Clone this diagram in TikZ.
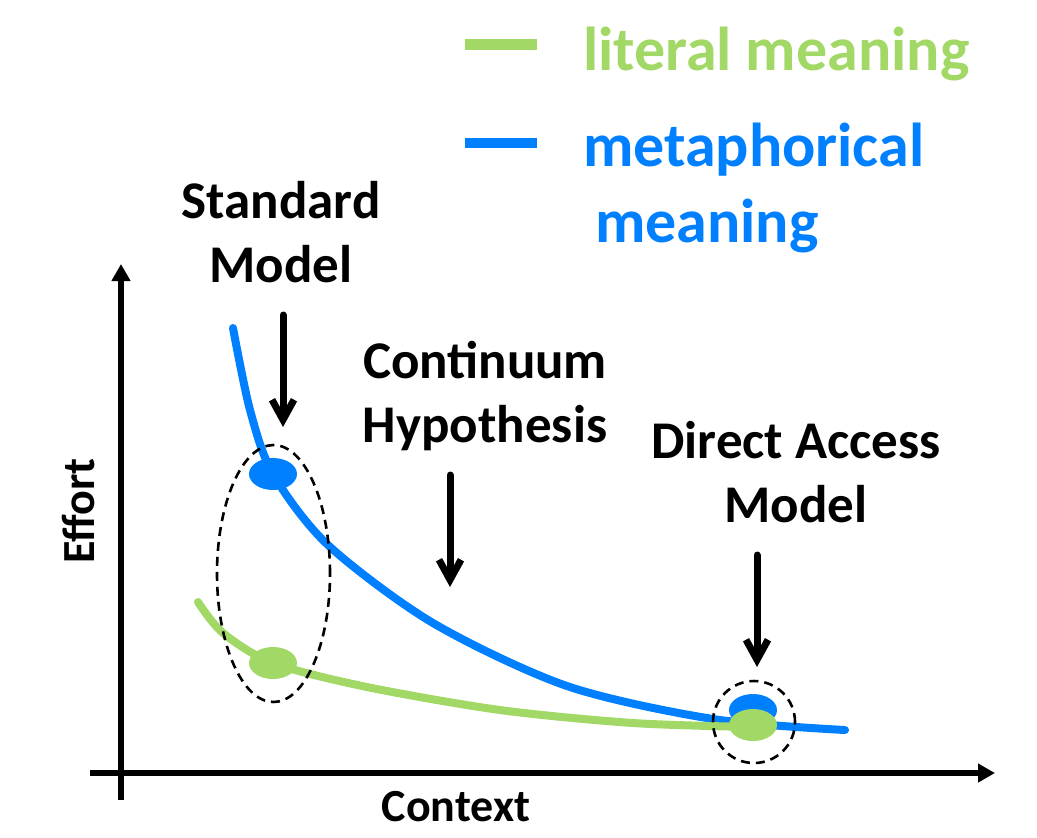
\documentclass[tikz,border=0pt]{standalone}
\usepackage{fontspec}
\setmainfont{Carlito}
\usetikzlibrary{arrows.meta, shapes.geometric}
\definecolor{cblue}{HTML}{0080FF}
\definecolor{cgreen}{HTML}{A2D865}
\tikzset{
  every picture/.style={font=\bfseries, line width=3pt},
  axisline/.style={-{Triangle[length=8.5pt, width=9pt]}, draw=black, line width=3pt},
  pointer/.style={-{Straight Barb[length=10pt, width=11pt]}, draw=black, line width=3.5pt, line cap=round},
  meaning/.style={draw=#1, line width=4pt, line cap=round},
  dot/.style={ellipse, fill=#1, inner sep=0pt, minimum width=24pt, minimum height=16pt},
  ring/.style={ellipse, draw=black, line width=1.3pt, dash pattern=on 4.5pt off 3pt, inner sep=0pt},
  modeltext/.style={font=\bfseries\fontsize{26.5}{32}\selectfont, align=center, inner sep=0pt},
  axistext/.style={font=\bfseries\fontsize{23}{28}\selectfont, inner sep=0pt},
  legendtext/.style={font=\bfseries\fontsize{31}{38}\selectfont, text=#1, align=left, inner sep=0pt},
}
\begin{document}
\begin{tikzpicture}[x=0.5pt, y=-0.5pt]
  \useasboundingbox (0,0) rectangle (1037,837);
  \coordinate (ybot) at (121,800);
  \coordinate (ytop) at (121,264);
  \coordinate (xleft) at (90,773);
  \coordinate (xright) at (995,773);
  \draw[axisline] (ybot) -- (ytop);
  \draw[axisline] (xleft) -- (xright);
  \node[axistext, rotate=90] (effort) at (79,511) {Effort};
  \node[axistext] (context) at (456,807) {Context};
  \draw[meaning=cblue] plot[smooth] coordinates {(233,328) (250,410) (273,474) (328,545) (433,623) (567,686) (713,719) (845,730)};
  \draw[meaning=cgreen] plot[smooth] coordinates {(198,602) (223,633) (273,663) (367,687) (500,710) (633,723) (752,727)};
  \node[dot=cblue] (smblue) at (273,474) {};
  \node[dot=cgreen] (smgreen) at (273,663) {};
  \node[dot=cblue] (dablue) at (753,710) {};
  \node[dot=cgreen] (dagreen) at (753,725) {};
  \node[ring, minimum width=56.5pt, minimum height=128.5pt] (smring) at (273.5,573.5) {};
  \node[ring, minimum width=41pt, minimum height=41pt] (daring) at (754,722) {};
  \node[modeltext, anchor=north] (standard) at (281,178) {Standard\\Model};
  \node[modeltext, anchor=north] (continuum) at (485,338) {Continuum\\Hypothesis};
  \node[modeltext, anchor=north] (direct) at (796,418) {Direct Access\\Model};
  \coordinate (smtop) at (283,315);
  \coordinate (smtip) at (283,427);
  \coordinate (chtop) at (450,475);
  \coordinate (chtip) at (450,587);
  \coordinate (datop) at (757,555);
  \coordinate (datip) at (757,667);
  \draw[pointer] (smtop) -- (smtip);
  \draw[pointer] (chtop) -- (chtip);
  \draw[pointer] (datop) -- (datip);
  \coordinate (lgleft) at (465,44);
  \coordinate (lgright) at (537,44);
  \coordinate (lbleft) at (465,143);
  \coordinate (lbright) at (537,143);
  \draw[cgreen, line width=5.5pt] (lgleft) -- (lgright);
  \draw[cblue, line width=5pt] (lbleft) -- (lbright);
  \node[legendtext=cgreen, anchor=base west] (literal) at (580,70) {literal meaning};
  \node[legendtext=cblue, anchor=base west] (metaphor) at (580,242) {metaphorical\\\hspace{6pt}meaning};
\end{tikzpicture}
\end{document}
